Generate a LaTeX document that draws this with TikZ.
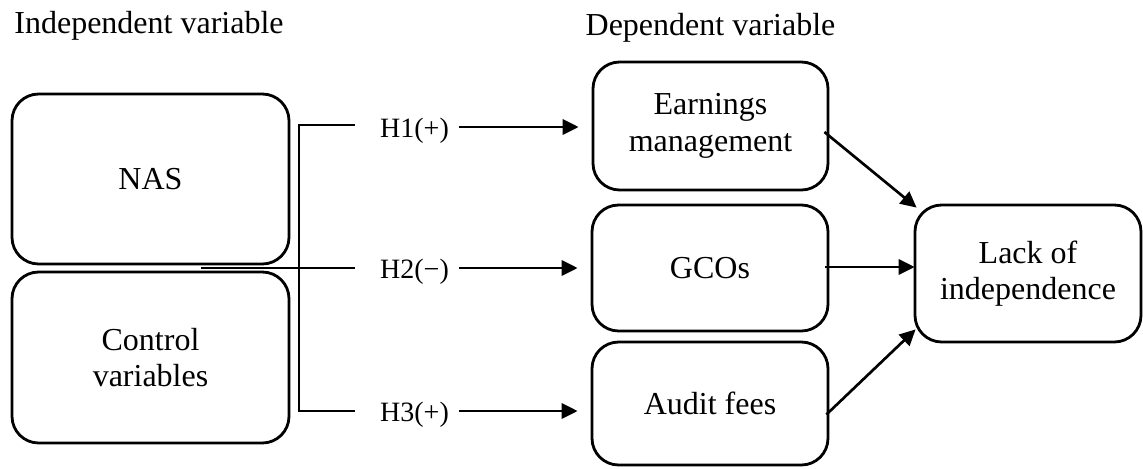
\documentclass[tikz,border=0pt]{standalone}
\usepackage{fontspec}
\setmainfont{Liberation Serif}
\usetikzlibrary{arrows.meta,calc}
\begin{document}
\begin{tikzpicture}[x=0.75pt,y=-0.75pt,
  box/.style={draw,line width=2.1pt,rounded corners=20pt,align=center,
    font=\fontsize{24}{27.5}\selectfont,inner sep=0pt},
  title/.style={font=\fontsize{24}{27.5}\selectfont,anchor=base,inner sep=0pt},
  hlab/.style={font=\fontsize{21}{24}\selectfont,anchor=base,inner sep=0pt},
  arr/.style={line width=2pt,-{Triangle[length=12pt,width=11.5pt]}},
  brk/.style={line width=0.8pt}]
\useasboundingbox (0,0) rectangle (1143,468);
% titles
\node[title] (ti) at (149,33) {Independent variable};
\node[title] (td) at (710.5,35) {Dependent variable};
% left boxes
\node[box,minimum width=207.75pt,minimum height=127.5pt] (nas) at (150.5,179) {NAS};
\node[box,minimum width=207.75pt,minimum height=128.25pt] (cv) at (150.5,357.5) {Control\\variables};
% right boxes
\node[box,minimum width=176.25pt,minimum height=96pt] (em) at (710.5,126) {Earnings\\management};
\node[box,minimum width=177pt,minimum height=94.5pt] (gc) at (710,268) {GCOs};
\node[box,minimum width=177pt,minimum height=92.25pt] (af) at (710,403.5) {Audit fees};
\node[box,minimum width=169.5pt,minimum height=102.75pt] (lk) at (1028,273.5) {Lack of\\independence};
% hypothesis labels
\node[hlab] (h1) at (414.5,137) {H1(+)};
\node[hlab] (h2) at (414.5,278) {H2(−)};
\node[hlab] (h3) at (414.5,421) {H3(+)};
% bracket
\coordinate (b1) at (355,125);
\coordinate (b0) at (299,125);
\coordinate (b3) at (299,411);
\coordinate (b4) at (355,411);
\coordinate (m0) at (201,268);
\coordinate (m1) at (355,268);
\draw[brk] (b1) -- (b0) -- (b3) -- (b4);
\draw[brk] (m0) -- (m1);
% hypothesis arrows
\coordinate (s1) at (459,127);
\coordinate (s2) at (459,268);
\coordinate (s3) at (459,411);
\draw[arr,shorten >=9.75pt] (s1) -- (s1 -| em.west);
\draw[arr,shorten >=9.75pt] (s2) -- (s2 -| gc.west);
\draw[arr,shorten >=9.75pt] (s3) -- (s3 -| af.west);
% arrows to lack of independence
\draw[arr] ($(em.east)+(-5,6)$) -- ($(lk.north west)+(3,4)$);
\draw[arr] ($(gc.east)+(-4,-1)$) -- ($(gc.east -| lk.west)+(1,-1)$);
\draw[arr] ($(af.east)+(-3,11)$) -- ($(lk.south west)+(2,-14)$);
\end{tikzpicture}
\end{document}
